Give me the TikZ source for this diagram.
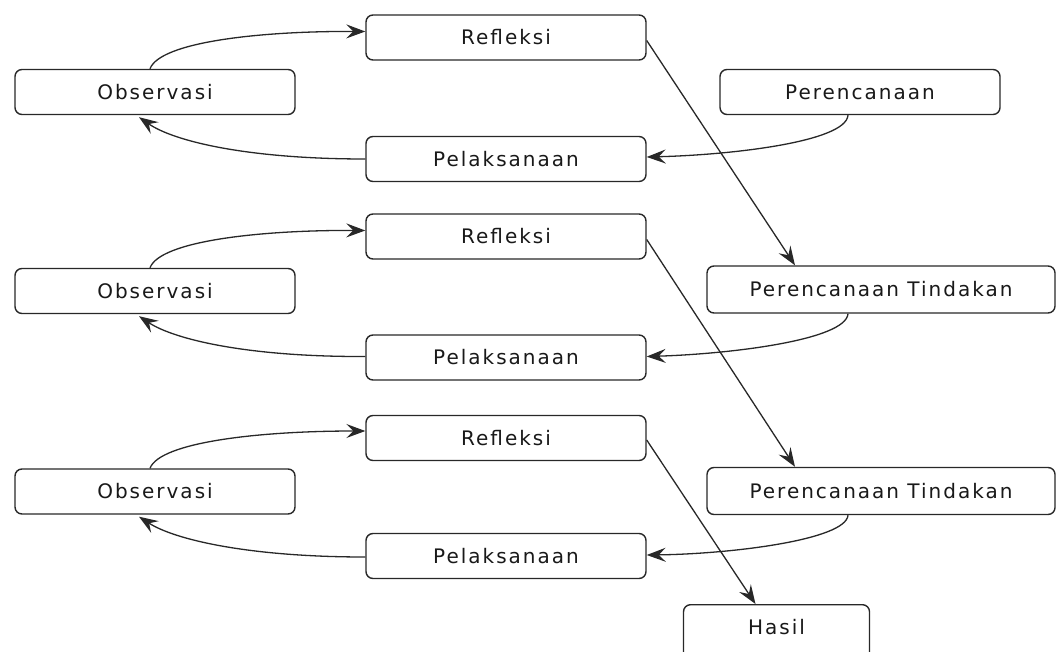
\documentclass[tikz,border=0pt]{standalone}
\usepackage{fontspec}
\setmainfont{DejaVu Sans}[LetterSpace=10]
\usetikzlibrary{arrows.meta}
\definecolor{ln}{RGB}{40,40,40}
\definecolor{tx}{RGB}{25,25,25}
\tikzset{
  box/.style={draw=ln, line width=1.4pt, rounded corners=7pt, fill=white,
    minimum width=280pt, minimum height=45pt, inner sep=0pt,
    font=\fontsize{20}{22}\selectfont, text=tx},
  wide/.style={box, minimum width=348pt, minimum height=47pt},
  conn/.style={draw=ln, line width=1.3pt,
    -{Stealth[length=19pt,width=14pt,inset=7pt]}}
}
\begin{document}
\begin{tikzpicture}[x=1pt,y=-1pt]
\useasboundingbox[fill=white] (0,0) rectangle (1056,652);
% row 1
\node[box] (obs1) at (155,92) {Observasi};
\node[box] (ref1) at (506,37.5) {Refleksi};
\node[box] (pel1) at (506,159) {Pelaksanaan};
\node[box] (per) at (860,92) {Perencanaan};
% row 2
\node[box] (obs2) at (155,291) {Observasi};
\node[box] (ref2) at (506,236.5) {Refleksi};
\node[box] (pel2) at (506,357.5) {Pelaksanaan};
\node[wide] (pt1) at (881,289.5) {Perencanaan Tindakan};
% row 3
\node[box] (obs3) at (155,491.5) {Observasi};
\node[box] (ref3) at (506,438) {Refleksi};
\node[box] (pel3) at (506,556) {Pelaksanaan};
\node[wide] (pt2) at (881,491) {Perencanaan Tindakan};
\node[box, minimum width=186pt, minimum height=70pt, anchor=north] (hasil) at (776.5,604) {};
\node[font=\fontsize{20}{22}\selectfont, text=tx] (hasiltxt) at (776.5,627) {Hasil};

% cycle 1
\draw[conn] ([xshift=-5pt]obs1.north) .. controls (160,42) and (260,31) .. ([yshift=6pt]ref1.west);
\draw[conn] (pel1.west) .. controls (250,159) and (175,142) .. ([xshift=-16pt,yshift=-2pt]obs1.south);
\draw[conn] ([xshift=-12pt]per.south) .. controls (846,142) and (730,155) .. ([yshift=2pt]pel1.east);
\draw[conn] ([yshift=-3pt]ref1.east) -- ([xshift=-86pt]pt1.north);
% cycle 2
\draw[conn] ([xshift=-5pt]obs2.north) .. controls (160,241) and (260,230) .. ([yshift=6pt]ref2.west);
\draw[conn] ([yshift=1pt]pel2.west) .. controls (250,357) and (175,340) .. ([xshift=-16pt,yshift=-2pt]obs2.south);
\draw[conn] ([xshift=-33pt]pt1.south) .. controls (846,340) and (730,354) .. ([yshift=1pt]pel2.east);
\draw[conn] ([yshift=-3pt]ref2.east) -- ([xshift=-86pt]pt2.north);
% cycle 3
\draw[conn] ([xshift=-5pt]obs3.north) .. controls (160,442) and (260,431) .. ([yshift=7pt]ref3.west);
\draw[conn] ([yshift=-1pt]pel3.west) .. controls (250,557) and (175,540) .. ([xshift=-16pt,yshift=-2pt]obs3.south);
\draw[conn] ([xshift=-33pt]pt2.south) .. controls (846,540) and (730,554) .. ([yshift=1pt]pel3.east);
\draw[conn] ([yshift=-2pt]ref3.east) -- ([xshift=-21pt]hasil.north);
\end{tikzpicture}
\end{document}
